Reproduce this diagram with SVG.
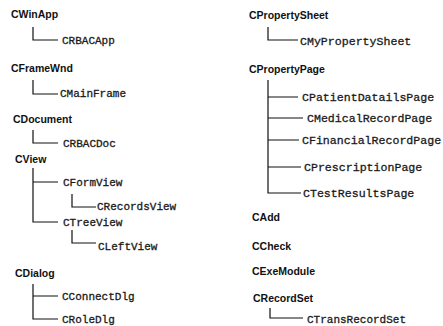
<svg xmlns="http://www.w3.org/2000/svg" width="443" height="326" viewBox="0 0 443 326">
<style>
.h{font-family:"Liberation Sans",Arial,sans-serif;font-weight:bold;font-size:10.5px;fill:#111}
.c{font-family:"Liberation Mono","Courier New",monospace;font-size:11px;fill:#1a1a1a;stroke:#1a1a1a;stroke-width:0.3}
.r{font-size:11.6px}
.ln{stroke:#111;stroke-width:1.2;fill:none}
</style>
<rect width="443" height="326" fill="#fff"/>
<g id="connectors" class="ln">
<path d="M33 27V40H58"/>
<path d="M33 80V94H58"/>
<path d="M33 130V143H58"/>
<path d="M33 168V222H58M33 182H58"/>
<path d="M72 194V207H96"/>
<path d="M72 230V243H96"/>
<path d="M33 284V319H58M33 296H58"/>
<path d="M268 27V40H298"/>
<path d="M268 80V193H301M268 97H298M268 118H303M268 140H299M268 167H301"/>
<path d="M270 308V318H303"/>
</g>
<g id="CWinApp"><text class="h" x="11" y="18">CWinApp</text></g>
<g id="CRBACApp"><text class="c" x="62" y="44">CRBACApp</text></g>
<g id="CFrameWnd"><text class="h" x="11" y="72">CFrameWnd</text></g>
<g id="CMainFrame"><text class="c" x="60" y="97">CMainFrame</text></g>
<g id="CDocument"><text class="h" x="13" y="123">CDocument</text></g>
<g id="CRBACDoc"><text class="c" x="63" y="147">CRBACDoc</text></g>
<g id="CView"><text class="h" x="15" y="163">CView</text></g>
<g id="CFormView"><text class="c" x="63" y="186">CFormView</text></g>
<g id="CRecordsView"><text class="c" x="97" y="210">CRecordsView</text></g>
<g id="CTreeView"><text class="c" x="63" y="226">CTreeView</text></g>
<g id="CLeftView"><text class="c" x="98" y="250">CLeftView</text></g>
<g id="CDialog"><text class="h" x="15" y="277">CDialog</text></g>
<g id="CConnectDlg"><text class="c" x="62" y="300">CConnectDlg</text></g>
<g id="CRoleDlg"><text class="c" x="62" y="323">CRoleDlg</text></g>
<g id="CPropertySheet"><text class="h" x="249" y="19">CPropertySheet</text></g>
<g id="CMyPropertySheet"><text class="c r" x="300" y="45">CMyPropertySheet</text></g>
<g id="CPropertyPage"><text class="h" x="249" y="73">CPropertyPage</text></g>
<g id="CPatientDatailsPage"><text class="c r" x="302" y="101">CPatientDatailsPage</text></g>
<g id="CMedicalRecordPage"><text class="c r" x="307" y="122">CMedicalRecordPage</text></g>
<g id="CFinancialRecordPage"><text class="c r" x="302" y="144">CFinancialRecordPage</text></g>
<g id="CPrescriptionPage"><text class="c r" x="304" y="171">CPrescriptionPage</text></g>
<g id="CTestResultsPage"><text class="c r" x="303" y="197">CTestResultsPage</text></g>
<g id="CAdd"><text class="h" x="252" y="221">CAdd</text></g>
<g id="CCheck"><text class="h" x="252" y="250">CCheck</text></g>
<g id="CExeModule"><text class="h" x="252" y="275">CExeModule</text></g>
<g id="CRecordSet"><text class="h" x="253" y="302">CRecordSet</text></g>
<g id="CTransRecordSet"><text class="c" x="307" y="323">CTransRecordSet</text></g>
</svg>
